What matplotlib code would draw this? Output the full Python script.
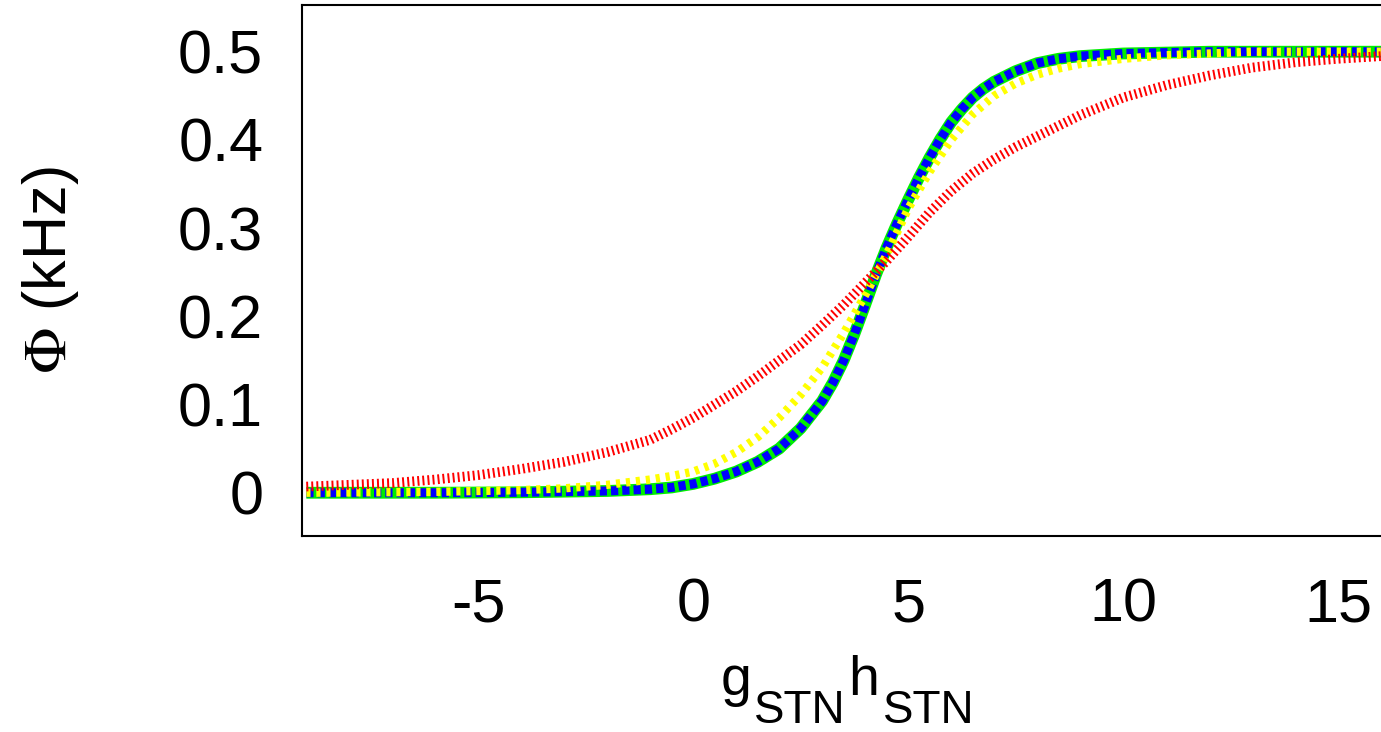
import matplotlib
matplotlib.use('Agg')
import matplotlib.pyplot as plt

plt.rcParams['font.family'] = ['Liberation Sans', 'DejaVu Sans']
plt.rcParams['mathtext.fontset'] = 'stix'

# values
x_gb = [-9, -6, -4, -2, -1.5, -1, -0.5, 0, 0.5, 1, 1.5, 2, 2.5, 3, 3.25, 3.5, 3.75, 4, 4.25, 4.5, 4.75,
        5, 5.25, 5.5, 5.75, 6, 6.25, 6.5, 6.75, 7, 7.5, 8, 8.5, 9, 10, 11, 12, 14, 16]
phi_green = [0, 0, 0.0005, 0.002, 0.003, 0.004, 0.006, 0.01, 0.016, 0.024, 0.035, 0.05, 0.073, 0.104,
             0.125, 0.15, 0.18, 0.213, 0.247, 0.278, 0.306, 0.332, 0.357, 0.38, 0.401, 0.42, 0.435,
             0.448, 0.458, 0.466, 0.478, 0.487, 0.492, 0.495, 0.498, 0.499, 0.5, 0.5, 0.5]
phi_blue = list(phi_green)

x_yellow = [-9, -6, -4, -3, -2, -1.5, -1, -0.5, 0, 0.5, 1, 1.5, 2, 2.5, 3, 3.5, 4, 4.5, 5, 5.5, 6,
            6.5, 7, 7.5, 8, 8.5, 9, 10, 11, 12, 13, 16]
phi_yellow = [0, 0.001, 0.003, 0.005, 0.009, 0.012, 0.015, 0.019, 0.024, 0.033, 0.046, 0.063, 0.085,
              0.111, 0.142, 0.181, 0.224, 0.27, 0.322, 0.364, 0.40, 0.429, 0.45, 0.464, 0.474, 0.481,
              0.486, 0.492, 0.496, 0.498, 0.5, 0.5]

x_red = [-9, -8, -7, -6, -5, -4, -3, -2, -1, -0.5, 0, 0.5, 1, 1.5, 2, 2.5, 3, 3.5, 4, 4.5, 5, 5.5,
         6, 6.5, 7, 7.5, 8, 9, 10, 11, 12, 13, 14, 15, 16]
phi_red = [0.007, 0.009, 0.011, 0.015, 0.02, 0.027, 0.035, 0.046, 0.06, 0.072, 0.085, 0.1, 0.115,
           0.132, 0.15, 0.168, 0.19, 0.213, 0.238, 0.263, 0.29, 0.318, 0.342, 0.362, 0.378, 0.392,
           0.404, 0.428, 0.448, 0.462, 0.473, 0.482, 0.488, 0.492, 0.495]

xticks = [-5, 0, 5, 10, 15]
xtick_labels = ['-5', '0', '5', '10', '15']
yticks = [0, 0.1, 0.2, 0.3, 0.4, 0.5]
ytick_labels = ['0', '0.1', '0.2', '0.3', '0.4', '0.5']

W, H = 1381, 732
fig = plt.figure(figsize=(W / 100, H / 100), dpi=100)
ax = fig.add_axes([0.2187, 0.2678, 0.7813, 0.7254])

ax.plot(x_gb, phi_green, color='#00ee00', lw=8.5, solid_capstyle='butt', solid_joinstyle='round')
ax.plot(x_gb, phi_blue, color='#0000ff', lw=6.5, dashes=(0.8, 0.45), dash_capstyle='butt')
ax.plot(x_yellow, phi_yellow, color='#ffff00', lw=6, dashes=(0.5, 0.7), dash_capstyle='butt')
ax.plot(x_red, phi_red, color='#ff0000', lw=7, dashes=(0.2, 0.32), dash_capstyle='butt')

ax.set_xlim(-9.1, 16.0)
ax.set_ylim(-0.049, 0.553)

ax.set_xticks(xticks)
ax.set_xticklabels(xtick_labels)
ax.set_yticks(yticks)
ax.set_yticklabels(ytick_labels)
ax.tick_params(axis='both', length=0, labelsize=44)
ax.tick_params(axis='x', pad=30)
ax.tick_params(axis='y', pad=28)

for side in ['left', 'top', 'bottom']:
    ax.spines[side].set_linewidth(1.5)
ax.spines['right'].set_visible(False)

ax.set_ylabel(r'$\Phi$ (kHz)', fontsize=44, labelpad=70)

# x label: subscripts are nearly as big as the main letters, so lay the pieces out by hand
pieces = [('g', 0, 40), ('STN', -28, 33), ('h', 0, 40), ('STN', -28, 33)]
gaps = [2, 3, 4, 0]
renderer = fig.canvas.get_renderer()
texts = []
for s, dy, fs in pieces:
    t = fig.text(0, (37 + dy) / H, s, fontsize=fs, va='baseline', ha='left')
    texts.append(t)
widths = [t.get_window_extent(renderer).width for t in texts]
total = sum(widths) + sum(gaps[:-1])
xpos = 848 - total / 2
for t, w, g in zip(texts, widths, gaps):
    t.set_x(xpos / W)
    xpos += w + g

fig.savefig('out.png', dpi=100)
